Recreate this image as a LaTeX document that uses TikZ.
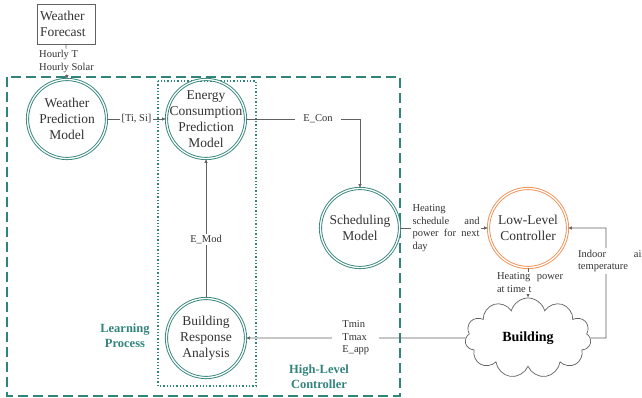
\documentclass[tikz,border=0pt]{standalone}
\usepackage{fontspec}
\setmainfont{Liberation Serif}
\usetikzlibrary{arrows.meta,positioning,shapes.symbols}
\definecolor{tealHL}{RGB}{49,132,123}
\definecolor{orangeLL}{RGB}{241,143,82}
\colorlet{InkGray}{black!80}
\colorlet{WireGray}{black!62}
\hyphenpenalty=10000
\tolerance=9999

\begin{document}
\begin{tikzpicture}[x=1pt,y=1pt,
    modelnode/.style={circle,draw=tealHL,double=white,double distance=1.3pt,line width=0.9pt,minimum size=79pt,inner sep=-10pt,align=center,text=InkGray,font=\fontsize{13.5}{16}\selectfont},
    lowmodel/.style={modelnode,draw=orangeLL},
    srcbox/.style={draw=WireGray,line width=0.8pt,text width=52pt,minimum height=40pt,inner sep=3pt,align=left,text=InkGray,font=\fontsize{13.5}{16}\selectfont},
    lbl/.style={fill=white,text=InkGray,inner sep=1.5pt,font=\fontsize{10.5}{12.5}\selectfont},
    blocklbl/.style={lbl,text width=67pt,align=justify},
    zonelbl/.style={text=tealHL,align=center,font=\bfseries\fontsize{12.5}{15}\selectfont},
    arr/.style={-{Latex[length=4pt,width=3.6pt]},line width=0.7pt,WireGray}
  ]
    \useasboundingbox (0,0) rectangle (642,-398);
    \draw[tealHL,line width=1.8pt,dash pattern=on 10pt off 5pt] (7,-77) rectangle (400,-396);
    \draw[tealHL,line width=1.3pt,dotted] (158,-81) rectangle (256,-386);

    \node[srcbox] (wf) at (66,-24) {Weather\\Forecast};
    \node[modelnode] (wpm) at (67,-119) {Weather\\Prediction\\Model};
    \node[modelnode] (ecpm) at (206,-119) {Energy\\Consumption\\Prediction\\Model};
    \node[modelnode] (sched) at (360,-228) {Scheduling\\Model};
    \node[lowmodel] (llc) at (528,-228) {Low-Level\\Controller};
    \node[modelnode] (bra) at (206,-338) {Building\\Response\\Analysis};
    \node[cloud,draw=WireGray,line width=0.7pt,cloud puffs=11,aspect=1.6,minimum width=126pt,minimum height=80pt,inner sep=0pt,text=black,font=\bfseries\fontsize{14}{16}\selectfont] (bld) at (528,-338) {Building};
    \coordinate (tap) at (606,-338);

    \node[zonelbl] (lp) at (125,-336) {Learning\\Process};
    \node[zonelbl] (hlc) at (319,-377) {High-Level\\Controller};

    \draw[arr] (wf.south) -- (wpm.north) node[lbl,midway,align=left] {Hourly T\\Hourly Solar};
    \draw[arr] (wpm) -- (ecpm) node[lbl,midway] {[Ti, Si]};
    \draw[arr] (ecpm.east) -| (sched.north) node[lbl,pos=0.316,inner xsep=8pt] {E\_Con};
    \draw[arr] (sched) -- (llc) node[blocklbl,midway,xshift=2pt] {Heating schedule and power for next day};
    \draw[arr] (llc) -- (bld.north) node[blocklbl,midway,xshift=2pt,text width=66pt] {Heating power at time t};
    \draw[arr] (bld.east) -- (tap) |- (llc.east) node[blocklbl,pos=0.35,xshift=5.5pt] {Indoor air temperature};
    \draw[arr] (bld.west) -- (bra.east) node[lbl,midway,align=left,inner xsep=10pt] {Tmin\\Tmax\\E\_app};
    \draw[arr] (bra.north) -- (ecpm.south) node[lbl,pos=0.42] {E\_Mod};
  \end{tikzpicture}
\end{document}
